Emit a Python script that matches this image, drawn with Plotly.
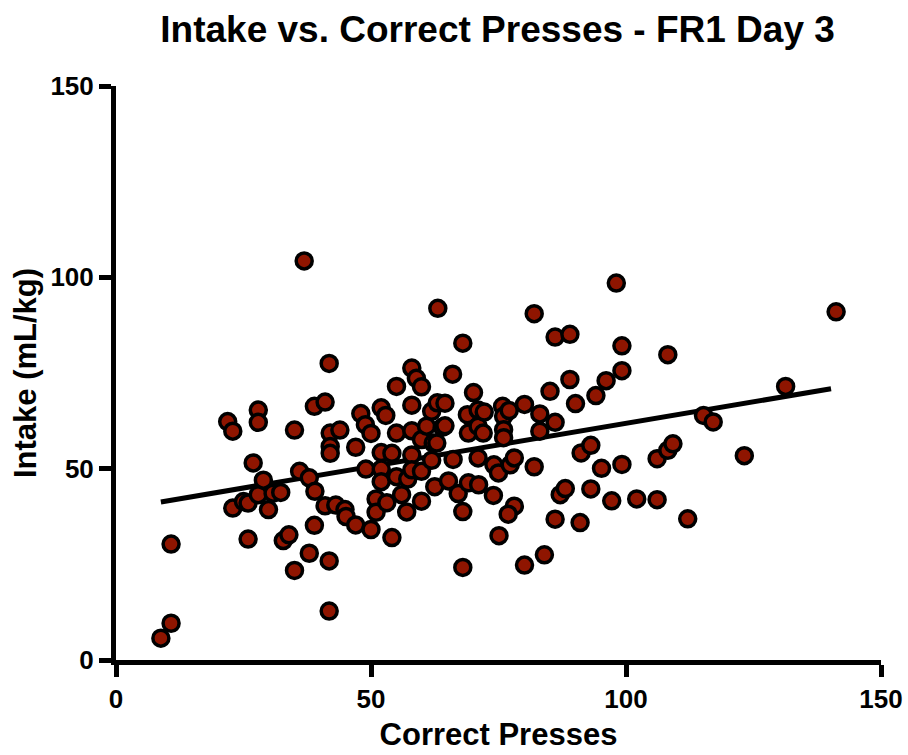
import plotly.graph_objects as go

# Correct presses (x) and intake in mL/kg (y)
presses = [8.8, 10.8, 10.8, 21.9, 22.9, 22.9, 25.0, 25.9, 25.9, 26.9, 27.9, 27.9, 27.9, 28.9,
           29.9, 30.8, 32.3, 32.8, 33.9, 35.0, 35.0, 36.0, 36.9, 37.9, 37.9, 38.9, 39.0, 38.9,
           41.0, 41.0, 41.8, 41.8, 41.8, 42.0, 42.0, 42.0, 43.1, 43.9, 44.9, 45.1, 47.0, 47.0,
           48.0, 48.9, 49.0, 50.0, 50.0, 51.0, 51.0, 52.0, 52.0, 52.0, 52.0, 52.9, 53.1, 54.1,
           54.1, 55.0, 55.0, 55.0, 56.0, 57.0, 57.2, 58.0, 58.9, 59.9, 58.0, 58.0, 58.0, 58.0,
           59.9, 59.9, 59.9, 60.9, 61.9, 61.9, 62.5, 62.2, 63.1, 63.0, 64.5, 64.0, 64.5, 62.9,
           65.2, 66.0, 66.1, 67.1, 68.0, 68.0, 68.0, 68.9, 69.1, 69.1, 70.1, 71.0, 71.0, 71.0,
           71.1, 72.2, 72.0, 74.1, 74.0, 75.0, 75.1, 75.8, 76.0, 76.0, 76.0, 77.1, 77.3, 78.1,
           78.1, 76.9, 80.1, 80.1, 82.0, 82.0, 83.1, 83.1, 84.0, 85.1, 86.1, 86.1, 86.1, 87.1,
           88.1, 89.0, 89.0, 90.1, 91.2, 91.0, 93.1, 93.1, 94.1, 95.2, 96.1, 97.2, 98.1, 99.2,
           99.2, 99.2, 102.1, 106.1, 106.1, 108.2, 108.2, 109.2, 112.1, 115.2, 117.1, 123.2,
           131.3, 141.2]
intake = [5.7, 9.6, 30.3, 62.3, 59.8, 39.7, 41.4, 41.0, 31.6, 51.5, 65.3, 62.1, 43.2, 47.0,
          39.3, 43.6, 43.8, 31.2, 32.7, 60.1, 23.4, 49.3, 104.3, 47.6, 27.9, 66.3, 44.1, 35.2,
          67.4, 40.3, 77.5, 25.9, 12.8, 59.3, 55.8, 54.0, 40.5, 60.1, 39.3, 37.5, 55.6, 35.3,
          64.4, 61.5, 49.9, 59.2, 34.1, 42.1, 38.6, 65.9, 54.2, 49.9, 46.6, 63.9, 41.1, 54.0,
          32.0, 71.5, 59.3, 47.9, 43.2, 38.7, 47.3, 76.3, 73.6, 71.4, 66.6, 59.9, 53.6, 49.7,
          49.3, 57.6, 41.5, 61.1, 65.0, 52.2, 45.3, 56.7, 91.9, 67.2, 67.1, 60.8, 61.2, 56.7,
          46.8, 74.7, 52.4, 43.5, 82.8, 38.8, 24.2, 64.1, 59.3, 46.3, 69.9, 65.3, 61.1, 52.8,
          45.8, 64.8, 59.3, 51.0, 43.0, 48.9, 32.5, 66.3, 63.7, 60.2, 58.1, 65.2, 51.0, 52.8,
          40.2, 38.1, 66.8, 24.8, 90.5, 50.5, 64.3, 59.8, 27.5, 70.2, 84.4, 62.1, 36.8, 43.2,
          44.8, 85.1, 73.3, 67.0, 54.1, 35.9, 56.1, 44.7, 69.1, 50.1, 73.0, 41.6, 98.5, 82.1,
          75.6, 51.1, 42.1, 41.9, 52.6, 79.8, 54.8, 56.5, 36.9, 63.9, 62.2, 53.4, 71.5, 91.0]

# Regression line end points
fit_x = [8.8, 140.2]
fit_y = [41.3, 70.9]

x_ticks = [0, 50, 100, 150]
y_ticks = [0, 50, 100, 150]

FONT = "Liberation Sans, Arial, Helvetica, sans-serif"

fig = go.Figure()
fig.add_trace(go.Scatter(
    x=fit_x, y=fit_y, mode="lines",
    line=dict(color="black", width=5), showlegend=False, hoverinfo="skip"))
fig.add_trace(go.Scatter(
    x=presses, y=intake, mode="markers",
    marker=dict(size=16, color="#8f1500", line=dict(color="black", width=3.5)),
    showlegend=False))

fig.update_layout(
    width=908, height=755,
    paper_bgcolor="white", plot_bgcolor="white",
    margin=dict(l=116, r=27, t=86, b=95),
    title=dict(text="Intake vs. Correct Presses - FR1 Day 3",
               x=0.548, xanchor="center", y=0.962, yanchor="middle",
               font=dict(family=FONT, size=37, color="black", weight="bold")),
    font=dict(family=FONT, color="black"),
)
fig.update_xaxes(
    range=[0, 150], tickvals=x_ticks, ticktext=[str(v) for v in x_ticks],
    automargin=False,
    showgrid=False, zeroline=False, showline=True, linecolor="black", linewidth=5,
    ticks="outside", ticklen=12, tickwidth=5, tickcolor="black",
    tickfont=dict(family=FONT, size=26, color="black", weight="bold"),
    title=dict(text="Correct Presses", standoff=12,
               font=dict(family=FONT, size=31, color="black", weight="bold")),
)
fig.update_yaxes(
    range=[0, 150], tickvals=y_ticks, ticktext=[str(v) for v in y_ticks],
    automargin=False,
    showgrid=False, zeroline=False, showline=True, linecolor="black", linewidth=5,
    ticks="outside", ticklen=12, tickwidth=5, tickcolor="black",
    tickfont=dict(family=FONT, size=26, color="black", weight="bold"),
    title=dict(text="Intake (mL/kg)", standoff=6,
               font=dict(family=FONT, size=31, color="black", weight="bold")),
)
fig.write_html("out.html")
